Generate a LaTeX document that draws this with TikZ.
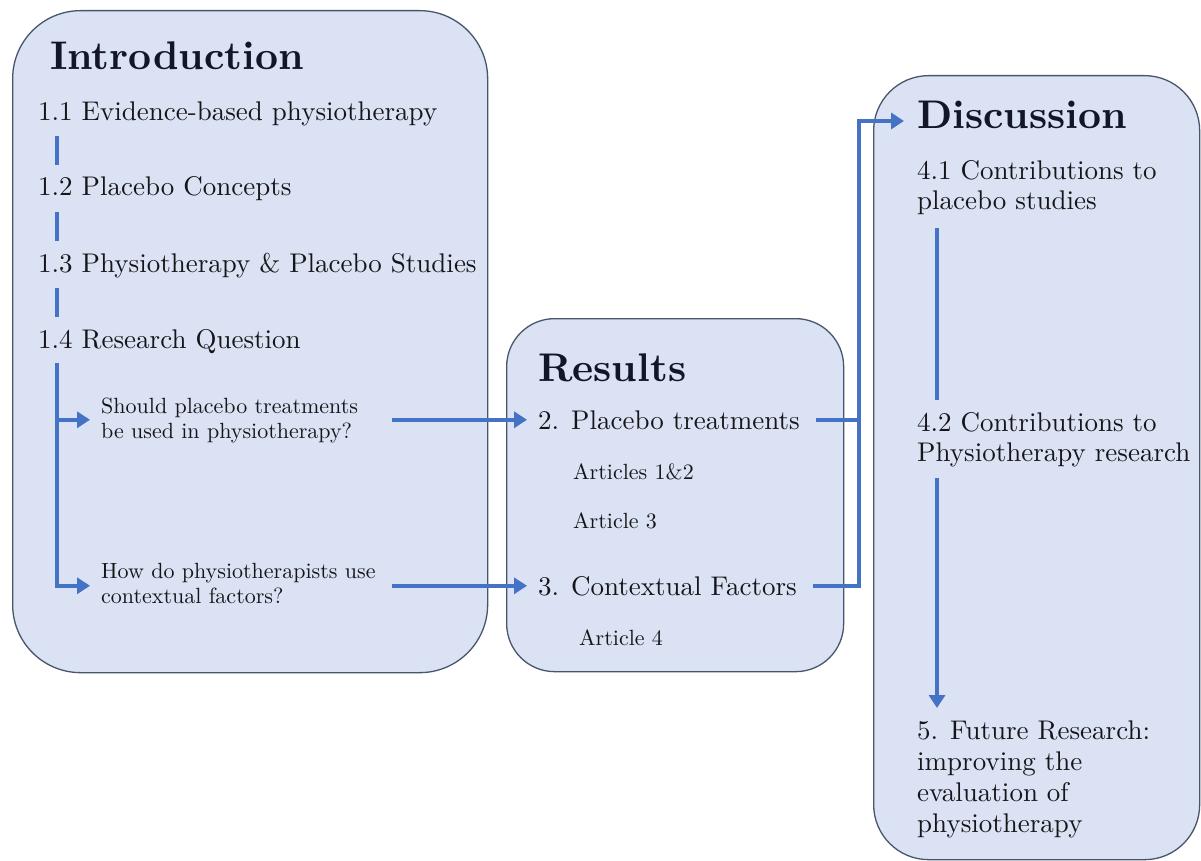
\documentclass[tikz,border=0pt]{standalone}
\usetikzlibrary{arrows.meta,calc}
% Latin Modern at its 10pt design size, scaled up
\DeclareFontFamily{TU}{lmten}{}
\DeclareFontShape{TU}{lmten}{m}{n}{<-> "[lmroman10-regular]:+tlig;"}{}
\DeclareFontShape{TU}{lmten}{bx}{n}{<-> "[lmroman10-bold]:+tlig;"}{}
\DeclareFontShape{TU}{lmten}{b}{n}{<-> ssub * lmten/bx/n}{}
\renewcommand\rmdefault{lmten}
\definecolor{panelfill}{RGB}{218,226,243}
\definecolor{paneledge}{RGB}{72,86,108}
\definecolor{flowblue}{RGB}{68,114,196}
\definecolor{ink}{RGB}{22,22,26}
\definecolor{headink}{RGB}{18,22,40}
\tikzset{
  panel/.style={draw=paneledge, line width=1.3pt, fill=panelfill,
    rounded corners=#1, anchor=north west, inner sep=0pt},
  head/.style={font=\fontsize{40}{46}\selectfont\bfseries, text=headink,
    inner sep=0pt, anchor=base west},
  item/.style={font=\fontsize{27}{30}\selectfont, text=ink,
    inner sep=0pt, anchor=base west},
  itemwide/.style={font=\fontsize{27}{31}\selectfont, text=ink,
    inner sep=0pt, anchor=base west},
  note/.style={font=\fontsize{22}{25}\selectfont, text=ink,
    inner sep=0pt, anchor=base west},
  flowline/.style={draw=flowblue, line width=4pt},
  flow/.style={flowline, -{Triangle[length=13pt,width=16pt]}},
}
\begin{document}
\begin{tikzpicture}[x=1pt,y=-1pt]
\fill[white] (0,0) rectangle (1201,861);
\useasboundingbox (0,0) rectangle (1201,861);

% panels
\node[panel=68pt, minimum width=475pt, minimum height=662pt] (intro) at (12,10) {};
\node[panel=48pt, minimum width=337pt, minimum height=353pt] (results) at (506,318) {};
\node[panel=55pt, minimum width=326pt, minimum height=784pt] (disc) at (873,75) {};

% Introduction
\node[head] (ihead) at (50,70) {Introduction};
\node[item] (s11) at (38,121) {1.1 Evidence-based physiotherapy};
\node[item] (s12) at (38,196) {1.2 Placebo Concepts};
\node[item] (s13) at (38,272) {1.3 Physiotherapy \& Placebo Studies};
\node[item] (s14) at (38,348) {1.4 Research Question};
\node[note] (q1) at (101,413) {\begin{tabular}[t]{@{}l@{}}Should placebo treatments\\be used in physiotherapy?\end{tabular}};
\node[note] (q2) at (101,578) {\begin{tabular}[t]{@{}l@{}}How do physiotherapists use\\contextual factors?\end{tabular}};

% Results
\node[head] (rhead) at (538,381) {Results};
\node[item] (r2) at (538,429) {2. Placebo treatments};
\node[note] (a12) at (573,479) {Articles 1\&2};
\node[note] (a3) at (573,528) {Article 3};
\node[item] (r3) at (538,595) {3. Contextual Factors};
\node[note] (a4) at (579,645) {Article 4};

% Discussion
\node[head] (dhead) at (917,129) {Discussion};
\node[item] (d41) at (917,179) {\begin{tabular}[t]{@{}l@{}}4.1 Contributions to\\placebo studies\end{tabular}};
\node[item] (d42) at (917,431) {\begin{tabular}[t]{@{}l@{}}4.2 Contributions to\\Physiotherapy research\end{tabular}};
\node[itemwide] (d5) at (917,739) {\begin{tabular}[t]{@{}l@{}}5. Future Research:\\improving the\\evaluation of\\physiotherapy\end{tabular}};

% links between the introduction sections
\draw[flowline] ($(s11.base west)+(19,15)$) -- ($(s12.base west)+(19,-31)$);
\draw[flowline] ($(s12.base west)+(19,16)$) -- ($(s13.base west)+(19,-31)$);
\draw[flowline] ($(s13.base west)+(19,16)$) -- ($(s14.base west)+(19,-31)$);

% research question branches
\coordinate (trunk) at ($(s14.base west)+(19,15)$);
\draw[flow] (trunk) |- ($(q2.west |- r3.west)+(-11,0)$);
\draw[flow] (trunk |- r2.west) -- ($(q1.west |- r2.west)+(-11,0)$);

% questions to results
\coordinate (qout) at ($(q2.east)+(16,0)$);
\draw[flow] (qout |- r2.west) -- ($(r2.west)+(-11,0)$);
\draw[flow] (qout |- r3.west) -- ($(r3.west)+(-11,0)$);

% results to discussion
\coordinate (rail) at ($(dhead.base west)+(-58,-8)$);
\draw[flow] ($(r3.east)+(16,0)$) -| (rail) -- ($(dhead.base west)+(-13,-8)$);
\draw[flowline] ($(r2.east)+(16,0)$) -- (r2.east -| rail);

% discussion sequence
\draw[flowline] ($(d41.base west)+(20,49)$) -- ($(d42.base west)+(20,-31)$);
\draw[flow] ($(d42.base west)+(20,47)$) -- ($(d5.base west)+(20,-31)$);
\end{tikzpicture}
\end{document}
